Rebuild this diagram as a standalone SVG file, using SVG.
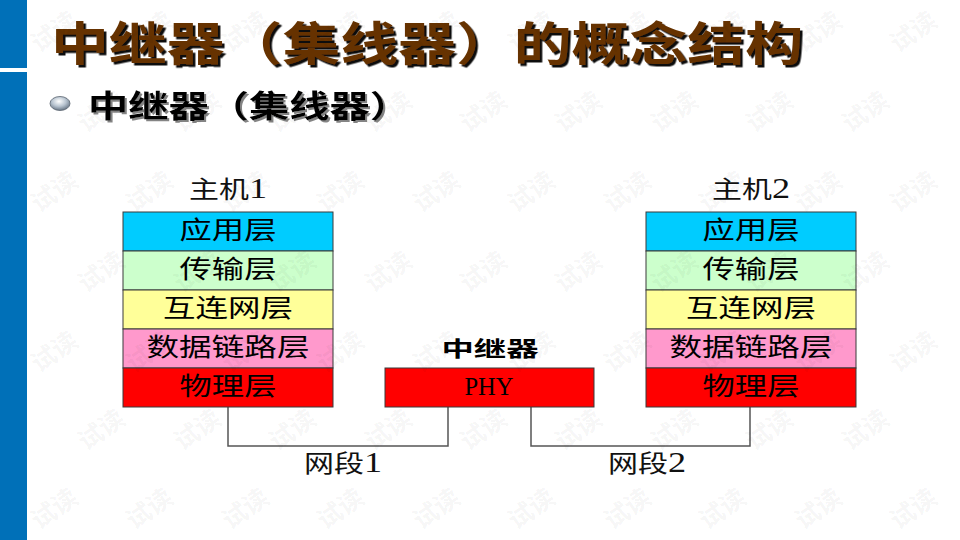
<svg xmlns="http://www.w3.org/2000/svg" width="960" height="540" viewBox="0 0 960 540">
<defs>
<style>
.cjk{font-family:"Liberation Serif","Noto Sans CJK SC",serif;}
.lay{font-size:25px;text-anchor:middle;fill:#000;}
.lbl{font-size:24px;text-anchor:middle;fill:#111;}
.dig{font-size:29px;}
.layer{stroke:#3a3a3a;stroke-width:1;}
.conn{fill:none;stroke:#555;stroke-width:1.5;}
.wm{font-family:"Noto Sans CJK SC",sans-serif;font-size:25px;font-weight:bold;fill:#000;fill-opacity:0.05;text-anchor:middle;dominant-baseline:central;}
</style>
<filter id="sh" x="-5%" y="-20%" width="110%" height="140%">
<feDropShadow dx="2.5" dy="2.5" stdDeviation="0.4" flood-color="#000" flood-opacity="0.95"/>
</filter>
<filter id="sh2" x="-5%" y="-20%" width="110%" height="140%">
<feDropShadow dx="2" dy="2" stdDeviation="0.5" flood-color="#777" flood-opacity="0.9"/>
</filter>
<radialGradient id="ball" cx="45%" cy="35%" r="70%">
<stop offset="0" stop-color="#ffffff"/>
<stop offset="0.5" stop-color="#b8c4d0"/>
<stop offset="1" stop-color="#5a6878"/>
</radialGradient>
</defs>
<rect width="960" height="540" fill="#fff"/>
<rect x="0" y="0" width="27" height="68" fill="#0070B8"/>
<rect x="0" y="72" width="27" height="468" fill="#0070B8"/>

<g id="title">
<text x="51" y="60" font-family="'Noto Sans CJK SC',sans-serif" font-size="46" font-weight="bold" fill="#663300" filter="url(#sh)" textLength="752" lengthAdjust="spacingAndGlyphs">中继器（集线器）的概念结构</text>
</g>
<g id="subtitle">
<ellipse cx="60" cy="103.5" rx="10" ry="7" fill="url(#ball)" stroke="#5a6470" stroke-width="0.8"/>
<text x="88" y="117" font-family="'Noto Sans CJK SC',sans-serif" font-size="31" font-weight="bold" fill="#000" filter="url(#sh2)" textLength="322" lengthAdjust="spacingAndGlyphs">中继器（集线器）</text>
</g>

<g id="connectors">
<polyline class="conn" points="228,407 228,446 448,446 448,407"/>
<polyline class="conn" points="531,407 531,446 750,446 750,407"/>
</g>

<g id="host1">
<text class="cjk lbl" x="228" y="198" textLength="78" lengthAdjust="spacingAndGlyphs">主机<tspan class="dig">1</tspan></text>
<rect class="layer" x="123" y="212" width="210" height="39" fill="#00CCFF"/>
<rect class="layer" x="123" y="251" width="210" height="39" fill="#CCFFCC"/>
<rect class="layer" x="123" y="290" width="210" height="39" fill="#FFFF99"/>
<rect class="layer" x="123" y="329" width="210" height="39" fill="#FF99CC"/>
<rect class="layer" x="123" y="368" width="210" height="39" fill="#FF0000"/>
<text class="cjk lay" x="228" y="239" textLength="97" lengthAdjust="spacingAndGlyphs">应用层</text>
<text class="cjk lay" x="228" y="278" textLength="97" lengthAdjust="spacingAndGlyphs">传输层</text>
<text class="cjk lay" x="228" y="317" textLength="130" lengthAdjust="spacingAndGlyphs">互连网层</text>
<text class="cjk lay" x="228" y="356" textLength="163" lengthAdjust="spacingAndGlyphs">数据链路层</text>
<text class="cjk lay" x="228" y="395" textLength="97" lengthAdjust="spacingAndGlyphs">物理层</text>
</g>

<g id="repeater">
<text x="490" y="356" font-family="'Noto Sans CJK SC',sans-serif" font-size="21" font-weight="bold" text-anchor="middle" fill="#000" textLength="97" lengthAdjust="spacingAndGlyphs">中继器</text>
<rect class="layer" x="385" y="368" width="209" height="39" fill="#FF0000"/>
<text x="489" y="395" font-family="'Liberation Serif',serif" font-size="25" text-anchor="middle" fill="#000" textLength="49" lengthAdjust="spacingAndGlyphs">PHY</text>
</g>

<g id="host2">
<text class="cjk lbl" x="751" y="198" textLength="78" lengthAdjust="spacingAndGlyphs">主机<tspan class="dig">2</tspan></text>
<rect class="layer" x="646" y="212" width="210" height="39" fill="#00CCFF"/>
<rect class="layer" x="646" y="251" width="210" height="39" fill="#CCFFCC"/>
<rect class="layer" x="646" y="290" width="210" height="39" fill="#FFFF99"/>
<rect class="layer" x="646" y="329" width="210" height="39" fill="#FF99CC"/>
<rect class="layer" x="646" y="368" width="210" height="39" fill="#FF0000"/>
<text class="cjk lay" x="751" y="239" textLength="97" lengthAdjust="spacingAndGlyphs">应用层</text>
<text class="cjk lay" x="751" y="278" textLength="97" lengthAdjust="spacingAndGlyphs">传输层</text>
<text class="cjk lay" x="751" y="317" textLength="130" lengthAdjust="spacingAndGlyphs">互连网层</text>
<text class="cjk lay" x="751" y="356" textLength="163" lengthAdjust="spacingAndGlyphs">数据链路层</text>
<text class="cjk lay" x="751" y="395" textLength="97" lengthAdjust="spacingAndGlyphs">物理层</text>
</g>

<g id="segment1">
<text class="cjk lbl" x="343" y="472" textLength="78" lengthAdjust="spacingAndGlyphs">网段<tspan class="dig">1</tspan></text>
</g>
<g id="segment2">
<text class="cjk lbl" x="647" y="472" textLength="78" lengthAdjust="spacingAndGlyphs">网段<tspan class="dig">2</tspan></text>
</g>

<g id="watermark">
<text class="wm" transform="translate(53,30) rotate(-35)">试读</text>
<text class="wm" transform="translate(148,30) rotate(-35)">试读</text>
<text class="wm" transform="translate(244,30) rotate(-35)">试读</text>
<text class="wm" transform="translate(339,30) rotate(-35)">试读</text>
<text class="wm" transform="translate(435,30) rotate(-35)">试读</text>
<text class="wm" transform="translate(530,30) rotate(-35)">试读</text>
<text class="wm" transform="translate(626,30) rotate(-35)">试读</text>
<text class="wm" transform="translate(721,30) rotate(-35)">试读</text>
<text class="wm" transform="translate(817,30) rotate(-35)">试读</text>
<text class="wm" transform="translate(912,30) rotate(-35)">试读</text>
<text class="wm" transform="translate(100,110) rotate(-35)">试读</text>
<text class="wm" transform="translate(196,110) rotate(-35)">试读</text>
<text class="wm" transform="translate(291,110) rotate(-35)">试读</text>
<text class="wm" transform="translate(387,110) rotate(-35)">试读</text>
<text class="wm" transform="translate(482,110) rotate(-35)">试读</text>
<text class="wm" transform="translate(577,110) rotate(-35)">试读</text>
<text class="wm" transform="translate(673,110) rotate(-35)">试读</text>
<text class="wm" transform="translate(768,110) rotate(-35)">试读</text>
<text class="wm" transform="translate(864,110) rotate(-35)">试读</text>
<text class="wm" transform="translate(53,190) rotate(-35)">试读</text>
<text class="wm" transform="translate(148,190) rotate(-35)">试读</text>
<text class="wm" transform="translate(244,190) rotate(-35)">试读</text>
<text class="wm" transform="translate(339,190) rotate(-35)">试读</text>
<text class="wm" transform="translate(435,190) rotate(-35)">试读</text>
<text class="wm" transform="translate(530,190) rotate(-35)">试读</text>
<text class="wm" transform="translate(626,190) rotate(-35)">试读</text>
<text class="wm" transform="translate(721,190) rotate(-35)">试读</text>
<text class="wm" transform="translate(817,190) rotate(-35)">试读</text>
<text class="wm" transform="translate(912,190) rotate(-35)">试读</text>
<text class="wm" transform="translate(100,270) rotate(-35)">试读</text>
<text class="wm" transform="translate(196,270) rotate(-35)">试读</text>
<text class="wm" transform="translate(291,270) rotate(-35)">试读</text>
<text class="wm" transform="translate(387,270) rotate(-35)">试读</text>
<text class="wm" transform="translate(482,270) rotate(-35)">试读</text>
<text class="wm" transform="translate(577,270) rotate(-35)">试读</text>
<text class="wm" transform="translate(673,270) rotate(-35)">试读</text>
<text class="wm" transform="translate(768,270) rotate(-35)">试读</text>
<text class="wm" transform="translate(864,270) rotate(-35)">试读</text>
<text class="wm" transform="translate(53,350) rotate(-35)">试读</text>
<text class="wm" transform="translate(148,350) rotate(-35)">试读</text>
<text class="wm" transform="translate(244,350) rotate(-35)">试读</text>
<text class="wm" transform="translate(339,350) rotate(-35)">试读</text>
<text class="wm" transform="translate(435,350) rotate(-35)">试读</text>
<text class="wm" transform="translate(530,350) rotate(-35)">试读</text>
<text class="wm" transform="translate(626,350) rotate(-35)">试读</text>
<text class="wm" transform="translate(721,350) rotate(-35)">试读</text>
<text class="wm" transform="translate(817,350) rotate(-35)">试读</text>
<text class="wm" transform="translate(912,350) rotate(-35)">试读</text>
<text class="wm" transform="translate(100,428) rotate(-35)">试读</text>
<text class="wm" transform="translate(196,428) rotate(-35)">试读</text>
<text class="wm" transform="translate(291,428) rotate(-35)">试读</text>
<text class="wm" transform="translate(387,428) rotate(-35)">试读</text>
<text class="wm" transform="translate(482,428) rotate(-35)">试读</text>
<text class="wm" transform="translate(577,428) rotate(-35)">试读</text>
<text class="wm" transform="translate(673,428) rotate(-35)">试读</text>
<text class="wm" transform="translate(768,428) rotate(-35)">试读</text>
<text class="wm" transform="translate(864,428) rotate(-35)">试读</text>
<text class="wm" transform="translate(53,507) rotate(-35)">试读</text>
<text class="wm" transform="translate(148,507) rotate(-35)">试读</text>
<text class="wm" transform="translate(244,507) rotate(-35)">试读</text>
<text class="wm" transform="translate(339,507) rotate(-35)">试读</text>
<text class="wm" transform="translate(435,507) rotate(-35)">试读</text>
<text class="wm" transform="translate(530,507) rotate(-35)">试读</text>
<text class="wm" transform="translate(626,507) rotate(-35)">试读</text>
<text class="wm" transform="translate(721,507) rotate(-35)">试读</text>
<text class="wm" transform="translate(817,507) rotate(-35)">试读</text>
<text class="wm" transform="translate(912,507) rotate(-35)">试读</text>
</g>
</svg>
